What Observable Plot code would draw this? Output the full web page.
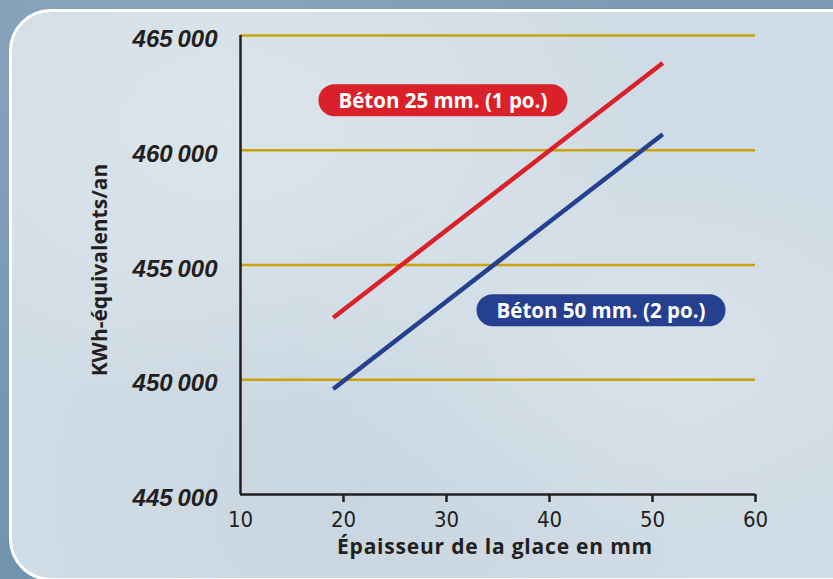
<!DOCTYPE html>
<html>
<head>
<meta charset="utf-8">
<script src="https://cdn.jsdelivr.net/npm/d3@7"></script>
<script src="https://cdn.jsdelivr.net/npm/@observablehq/plot@0.6"></script>
<style>
  html, body { margin: 0; padding: 0; }
  body {
    width: 833px; height: 579px; overflow: hidden; position: relative;
    background:
      radial-gradient(ellipse at 20% 10%, rgba(255,255,255,0.10), transparent 50%),
      linear-gradient(180deg, #7e9bb4 0%, #7494ae 100%);
    font-family: "Liberation Sans", Arial, sans-serif;
  }
  #panel {
    position: absolute; left: 9px; top: 9px; width: 880px; height: 566px;
    border: 3px solid #ffffff; border-radius: 42px;
    background:
      radial-gradient(ellipse at 25% 20%, rgba(255,255,255,0.25), transparent 45%),
      radial-gradient(ellipse at 70% 60%, rgba(255,255,255,0.18), transparent 40%),
      radial-gradient(ellipse at 40% 85%, rgba(180,198,212,0.25), transparent 45%),
      #d0dce5;
  }
  #chart { position: absolute; left: 0; top: 0; }
  #chart svg { overflow: visible; }
</style>
</head>
<body>
<div id="panel"></div>
<div id="chart"></div>
<script>
// Data
const thickness = [19, 51];                 // Épaisseur de la glace (mm)
const beton25 = [452700, 463800];           // Béton 25 mm. (1 po.)
const beton50 = [449600, 460700];           // Béton 50 mm. (2 po.)
const seriesNames = ["Béton 25 mm. (1 po.)", "Béton 50 mm. (2 po.)"];
const seriesColors = ["#da2129", "#25408f"];
const xTicks = [10, 20, 30, 40, 50, 60];
const yTicks = [445000, 450000, 455000, 460000, 465000];
const gridValues = [450000, 455000, 460000, 465000];
const xTitle = "Épaisseur de la glace en mm";
const yTitle = "KWh-équivalents/an";
// label anchor positions (data space)
const labelX = [29.65, 45.0];
const labelY = [462120, 452970];

const rows = [];
thickness.forEach((t, i) => {
  rows.push({series: seriesNames[0], x: t, y: beton25[i]});
  rows.push({series: seriesNames[1], x: t, y: beton50[i]});
});
const labels = seriesNames.map((s, i) => ({series: s, x: labelX[i], y: labelY[i], color: seriesColors[i]}));

const fmt = d => d3.format(",")(d).replace(",", "\u2009");
const labelFont = "'Open Sans', 'Liberation Sans', Arial, sans-serif";

const chart = Plot.plot({
  width: 833,
  height: 579,
  marginLeft: 240,
  marginRight: 78,
  marginTop: 35,
  marginBottom: 85,
  style: {background: "transparent", overflow: "visible"},
  x: {domain: [10, 60]},
  y: {domain: [445000, 465000]},
  color: {domain: seriesNames, range: seriesColors},
  marks: [
    Plot.ruleY(gridValues, {stroke: "#c9a208", strokeWidth: 2.5}),
    Plot.ruleX([10], {stroke: "#231f20", strokeWidth: 2.5}),
    Plot.ruleY([445000], {stroke: "#231f20", strokeWidth: 2.5}),
    Plot.axisY({
      ticks: yTicks, tickSize: 0, tickPadding: 23, tickFormat: fmt, label: null,
      fontSize: 24, fontStyle: "italic", fontWeight: "bold",
      fontFamily: "'Liberation Sans', Arial, sans-serif", fill: "#231f20", dy: 4
    }),
    Plot.axisX({
      ticks: xTicks.slice(1), tickSize: 8, stroke: "#231f20", strokeWidth: 2.5,
      text: null, label: null
    }),
    Plot.axisX({
      ticks: xTicks, tickSize: 0, tickPadding: 17, label: null,
      fontSize: 22, fontFamily: "'Liberation Sans Narrow', 'DejaVu Sans Condensed', Arial, sans-serif",
      fill: "#231f20"
    }),
    Plot.line(rows, {x: "x", y: "y", z: "series", stroke: "series", strokeWidth: 4.5, strokeLinecap: "butt"}),
    Plot.text(labels, {
      x: "x", y: "y", text: "series", fill: "white", fontWeight: "bold", fontSize: 20.5,
      fontFamily: labelFont
    }),
    Plot.text([yTitle], {
      frameAnchor: "left", textAnchor: "middle", dx: -140, dy: 5, rotate: -90, fontWeight: "bold", fontSize: 21,
      fontFamily: labelFont, fill: "#231f20"
    }),
    Plot.text([xTitle], {
      frameAnchor: "bottom", dx: -3, dy: 59, fontWeight: "bold", fontSize: 21,
      fontFamily: labelFont, fill: "#231f20"
    })
  ]
});

document.getElementById("chart").appendChild(chart);

const svgNS = "http://www.w3.org/2000/svg";
chart.querySelectorAll("text").forEach(t => {
  if (t.textContent === xTitle) t.style.letterSpacing = "0.8px";
});

// Rounded pill backgrounds behind the series labels
chart.querySelectorAll("text").forEach(t => {
  const i = seriesNames.indexOf(t.textContent);
  if (i < 0) return;
  const bb = t.getBBox();
  const h = 32, padX = 20;
  const cy = bb.y + bb.height / 2;
  const r = document.createElementNS(svgNS, "rect");
  r.setAttribute("x", bb.x - padX);
  r.setAttribute("y", cy - h / 2);
  r.setAttribute("width", bb.width + 2 * padX);
  r.setAttribute("height", h);
  r.setAttribute("rx", h / 2);
  r.setAttribute("fill", labels[i].color);
  if (t.getAttribute("transform")) r.setAttribute("transform", t.getAttribute("transform"));
  t.parentNode.insertBefore(r, t);
});
</script>
</body>
</html>
